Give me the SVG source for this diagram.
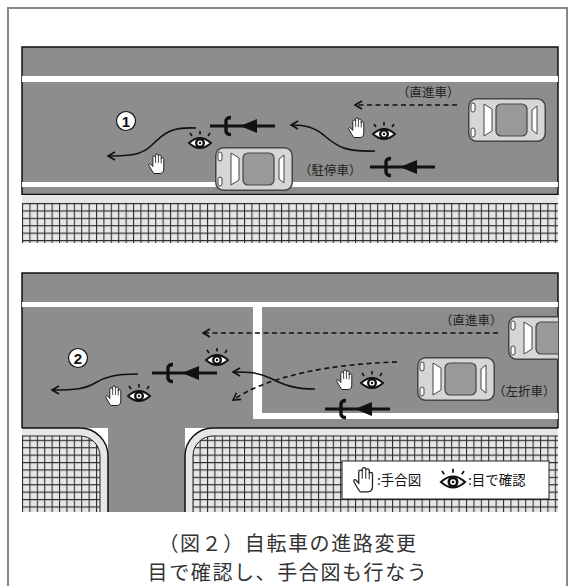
<svg xmlns="http://www.w3.org/2000/svg" xmlns:xlink="http://www.w3.org/1999/xlink" width="575" height="586" viewBox="0 0 575 586">
  <style>
    .road { fill: #8d8d8d; }
    .lane { fill: #ffffff; }
    .edge { fill: none; stroke: #111; stroke-width: 1.5; }
    .walk { fill: #e6e6e6; }
    .route { fill: none; stroke: #111; stroke-width: 1.6; marker-end: url(#chev); }
    .dash { stroke-dasharray: 5 3.5; }
    .lbl { font-family: "Noto Sans CJK JP", "Noto Sans", sans-serif; font-size: 12.5px; fill: #222; }
    .key { font-family: "Noto Sans CJK JP", "Noto Sans", sans-serif; font-size: 13.5px; fill: #111; }
    .cap { font-family: "Noto Sans CJK JP", "Noto Sans", sans-serif; font-size: 20px; fill: #333; text-anchor: middle; letter-spacing: 1.6px; }
    .num { font-family: "Liberation Sans", Arial, sans-serif; font-size: 15px; font-weight: bold; fill: #111; text-anchor: middle; }
  </style>
  <defs>
    <pattern id="grid" width="7.4" height="7.4" patternUnits="userSpaceOnUse" x="22" y="203">
      <rect width="7.4" height="7.4" fill="#e6e6e6"/>
      <path d="M0,0.5 H7.4 M0.5,0 V7.4" stroke="#2a2a2a" stroke-width="1.1"/>
    </pattern>
    <marker id="chev" viewBox="-9 -6 11 12" refX="0" refY="0" markerWidth="11" markerHeight="12" markerUnits="userSpaceOnUse" orient="auto">
      <path d="M-7,-4 L0,0 L-7,4" fill="none" stroke="#111" stroke-width="1.6"/>
    </marker>
    <clipPath id="panel2">
      <rect x="22" y="273" width="536" height="240"/>
    </clipPath>
    <!-- car seen from above, nose to the left -->
    <g id="car">
      <rect x="0.75" y="0.75" width="76.5" height="42.5" rx="8" fill="#d6d6d6" stroke="#444" stroke-width="1.5"/>
      <rect x="3" y="5" width="4" height="9" rx="2" fill="#fff" stroke="#444" stroke-width="1"/>
      <rect x="3" y="30" width="4" height="9" rx="2" fill="#fff" stroke="#444" stroke-width="1"/>
      <polygon points="16,6 24,11 24,33 16,38" fill="#fff" stroke="#444" stroke-width="1"/>
      <rect x="28" y="6" width="31" height="32" rx="5" fill="#999" stroke="#444" stroke-width="1.2"/>
      <polygon points="64,12 69,8 69,36 64,32" fill="#fff" stroke="#444" stroke-width="1"/>
    </g>
    <!-- bicycle seen from above, heading left -->
    <g id="bike">
      <line x1="0" y1="0" x2="65" y2="0" stroke="#111" stroke-width="3.2"/>
      <path d="M21,-8.5 Q16,-8.5 16,-5 L16,5 Q16,8.5 21,8.5" fill="none" stroke="#111" stroke-width="3.4"/>
      <polygon points="30,0 47,-7 47,7" fill="#111"/>
    </g>
    <!-- look-check eye -->
    <g id="eye">
      <path d="M0,-12 V-8.5 M-10,-10 L-8,-7 M10,-10 L8,-7" stroke="#111" stroke-width="1.6"/>
      <path d="M-11,0 Q0,-10 11,0 Q0,10 -11,0 Z" fill="#fff" stroke="#111" stroke-width="1.8"/>
      <circle r="5" fill="#111"/>
      <circle r="2.6" fill="#fff"/>
      <circle r="1.2" fill="#111"/>
    </g>
    <!-- hand signal -->
    <g id="hand">
      <path d="M-3,9.5 C-4.5,8 -6,5 -8,1.5 C-8.8,0 -7.2,-1 -6.3,0.2 L-4.2,2.5 L-4.2,-6.6 A1.4,1.4 0 0 1 -1.4,-6.6 L-1.4,-8.6 A1.4,1.4 0 0 1 1.4,-8.6 L1.4,-7.6 A1.4,1.4 0 0 1 4.2,-7.6 L4.2,-4.8 A1.3,1.3 0 0 1 6.8,-4.8 L6.8,5 C6.8,8 5,9.5 3,9.5 Z" fill="#fff" stroke="#222" stroke-width="1"/>
      <path d="M-1.4,-6.6 V-1 M1.4,-7.6 V-1 M4.2,-4.8 V-0.5" stroke="#222" stroke-width="0.8"/>
    </g>
  </defs>

  <rect width="575" height="586" fill="#fff"/>
  <path d="M8,600 V8 H567 V600" fill="none" stroke="#888" stroke-width="2"/>

  <!-- upper street: passing a parked car -->
  <g id="street-1">
    <rect class="road" x="22" y="47" width="536" height="148"/>
    <path class="edge" d="M22,195 V47 H558 V195"/>
    <rect class="lane" x="22" y="76" width="536" height="6"/>
    <rect class="lane" x="22" y="182" width="536" height="5"/>
    <line x1="22" y1="194.5" x2="558" y2="194.5" stroke="#111" stroke-width="1.5"/>
    <rect class="walk" x="22" y="195" width="536" height="8"/>
    <rect x="22" y="203" width="536" height="40" fill="url(#grid)"/>
  </g>

  <g id="car-through-1"><use href="#car" x="468" y="98"/></g>
  <g id="car-parked"><use href="#car" x="215" y="147"/></g>

  <g id="connectors-1">
    <path class="route dash" d="M457,105 H355"/>
    <path class="route" d="M375,151 C346,152 338,147 326,137 C315,127 305,125 291,125"/>
    <path class="route" d="M196,128 C172,127 165,132 152,145 C142,155 130,156 108,156"/>
  </g>

  <g id="bike-1a"><use href="#bike" x="370" y="167"/></g>
  <g id="bike-1b"><use href="#bike" x="210" y="126"/></g>
  <g id="signal-1a"><use href="#hand" x="357" y="128"/><use href="#eye" x="384" y="134"/></g>
  <g id="signal-1b"><use href="#eye" x="200" y="143"/><use href="#hand" x="157" y="164"/></g>
  <g id="mark-1"><circle cx="126" cy="121" r="9.5" fill="#fff" stroke="#111" stroke-width="1.2"/><text class="num" x="126" y="126.5">1</text></g>
  <text class="lbl" x="397" y="97">（直進車）</text>
  <text class="lbl" x="299" y="175">（駐停車）</text>

  <!-- lower street: passing a left-turning car at a T junction -->
  <g id="street-2">
    <rect class="road" x="22" y="273" width="536" height="155"/>
    <rect class="road" x="108" y="427" width="77" height="85"/>
    <path class="edge" d="M22,428 V273 H558 V428"/>
    <rect class="lane" x="22" y="302" width="536" height="5"/>
    <rect class="lane" x="253" y="307" width="9" height="112"/>
    <rect class="lane" x="253" y="413" width="305" height="6"/>
    <!-- corner blocks -->
    <path class="walk" d="M22,428 H80 A28,28 0 0 1 108,456 V512 H22 Z"/>
    <path d="M22,436 H80 A20,20 0 0 1 100,456 V512 H22 Z" fill="url(#grid)"/>
    <path d="M22,436 H80 A20,20 0 0 1 100,456 V512" fill="none" stroke="#222" stroke-width="1"/>
    <path class="edge" d="M22,428 H80 A28,28 0 0 1 108,456 V512"/>
    <path class="walk" d="M558,428 H213 A28,28 0 0 0 185,456 V512 H558 Z"/>
    <path d="M558,436 H213 A20,20 0 0 0 193,456 V512 H558 Z" fill="url(#grid)"/>
    <path d="M558,436 H213 A20,20 0 0 0 193,456 V512" fill="none" stroke="#222" stroke-width="1"/>
    <path class="edge" d="M558,428 H213 A28,28 0 0 0 185,456 V512"/>
  </g>

  <g id="car-through-2" clip-path="url(#panel2)"><use href="#car" x="508" y="316"/></g>
  <g id="car-turning"><use href="#car" x="417" y="357"/></g>

  <g id="connectors-2">
    <path class="route dash" d="M498,333 H203"/>
    <path class="route dash" d="M397,362 C330,364 268,376 233,400"/>
    <path class="route" d="M315,389 C294,389 284,385 270,378 C258,372 248,372 233,372"/>
    <path class="route" d="M138,374 C115,374 105,377 95,383 C85,389 75,390 52,390"/>
  </g>

  <g id="bike-2a"><use href="#bike" x="325" y="409"/></g>
  <g id="bike-2b"><use href="#bike" x="152" y="373"/></g>
  <g id="signal-2a"><use href="#hand" x="345" y="380"/><use href="#eye" x="372" y="383"/></g>
  <g id="signal-2b"><use href="#eye" x="217" y="360"/></g>
  <g id="signal-2c"><use href="#hand" x="114" y="396"/><use href="#eye" x="139" y="396"/></g>
  <g id="mark-2"><circle cx="78" cy="358" r="9.5" fill="#fff" stroke="#111" stroke-width="1.2"/><text class="num" x="78" y="363.5">2</text></g>
  <text class="lbl" x="440" y="325">（直進車）</text>
  <text class="lbl" x="493" y="396">（左折車）</text>

  <g id="legend">
    <rect x="342" y="461" width="207" height="38" fill="#fff" stroke="#222" stroke-width="1"/>
    <use href="#hand" transform="translate(364,480) scale(1.25)"/>
    <text class="key" x="377" y="485">:手合図</text>
    <use href="#eye" transform="translate(453,482) scale(1.1)"/>
    <text class="key" x="468" y="485">:目で確認</text>
  </g>

  <g id="caption">
    <text class="cap" x="288" y="551">（図２）自転車の進路変更</text>
    <text class="cap" x="288" y="580">目で確認し、手合図も行なう</text>
  </g>
</svg>
